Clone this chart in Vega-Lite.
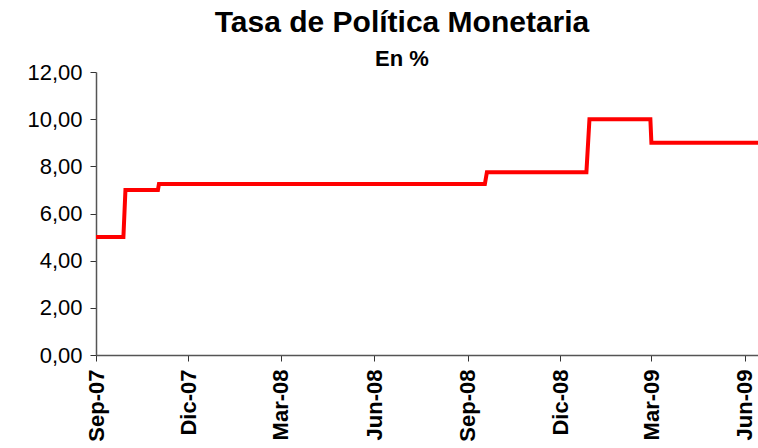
{
  "$schema": "https://vega.github.io/schema/vega-lite/v6.json",
  "autosize": "none",
  "width": 662,
  "height": 283,
  "padding": {"left": 96, "top": 72, "right": 0, "bottom": 93},
  "background": "white",
  "title": {
    "text": "Tasa de Política Monetaria",
    "subtitle": "En %",
    "font": "Liberation Sans",
    "fontSize": 30,
    "fontWeight": "bold",
    "color": "black",
    "subtitleFont": "Liberation Sans",
    "subtitleFontSize": 22,
    "subtitleFontWeight": "bold",
    "subtitleColor": "black",
    "subtitlePadding": 11,
    "anchor": "middle",
    "dx": -25,
    "offset": -9
  },
  "data": {
    "values": [
      {"fecha": "2007-09-01", "tasa": 5.0},
      {"fecha": "2007-09-28", "tasa": 5.0},
      {"fecha": "2007-09-30", "tasa": 7.0},
      {"fecha": "2007-11-01", "tasa": 7.0},
      {"fecha": "2007-11-02", "tasa": 7.25},
      {"fecha": "2008-09-18", "tasa": 7.25},
      {"fecha": "2008-09-20", "tasa": 7.75},
      {"fecha": "2008-12-27", "tasa": 7.75},
      {"fecha": "2008-12-30", "tasa": 10.0},
      {"fecha": "2009-02-28", "tasa": 10.0},
      {"fecha": "2009-03-01", "tasa": 9.0},
      {"fecha": "2009-06-14", "tasa": 9.0}
    ]
  },
  "mark": {"type": "line", "color": "#FF0000", "strokeWidth": 4, "clip": true},
  "encoding": {
    "x": {
      "field": "fecha",
      "type": "temporal",
      "title": null,
      "scale": {
        "type": "utc",
        "domain": [
          {"year": 2007, "month": 9, "date": 1, "utc": true},
          {"year": 2009, "month": 6, "date": 14, "utc": true}
        ]
      },
      "axis": {
        "values": [
          {"year": 2007, "month": 9, "date": 1, "utc": true},
          {"year": 2007, "month": 12, "date": 1, "utc": true},
          {"year": 2008, "month": 3, "date": 1, "utc": true},
          {"year": 2008, "month": 6, "date": 1, "utc": true},
          {"year": 2008, "month": 9, "date": 1, "utc": true},
          {"year": 2008, "month": 12, "date": 1, "utc": true},
          {"year": 2009, "month": 3, "date": 1, "utc": true},
          {"year": 2009, "month": 6, "date": 1, "utc": true}
        ],
        "labelExpr": "['Ene','Feb','Mar','Abr','May','Jun','Jul','Ago','Sep','Oct','Nov','Dic'][utcmonth(datum.value)] + '-' + utcFormat(datum.value, '%y')",
        "labelAngle": -90,
        "labelAlign": "right",
        "labelBaseline": "middle",
        "labelFont": "Liberation Sans",
        "labelFontSize": 22,
        "labelFontWeight": "bold",
        "labelColor": "black",
        "labelPadding": 8,
        "labelOverlap": false,
        "labelFlush": false,
        "domainColor": "#555555",
        "domainWidth": 1.5,
        "tickColor": "#333333",
        "tickSize": 6,
        "grid": false
      }
    },
    "y": {
      "field": "tasa",
      "type": "quantitative",
      "title": null,
      "scale": {"domain": [0, 12], "nice": false},
      "axis": {
        "values": [0, 2, 4, 6, 8, 10, 12],
        "labelExpr": "replace(format(datum.value, '.2f'), '.', ',')",
        "labelFont": "Liberation Sans",
        "labelFontSize": 22,
        "labelColor": "black",
        "labelPadding": 8,
        "domainColor": "#555555",
        "domainWidth": 1.5,
        "tickColor": "#333333",
        "tickSize": 6,
        "grid": false
      }
    }
  },
  "config": {"view": {"stroke": null}}
}
